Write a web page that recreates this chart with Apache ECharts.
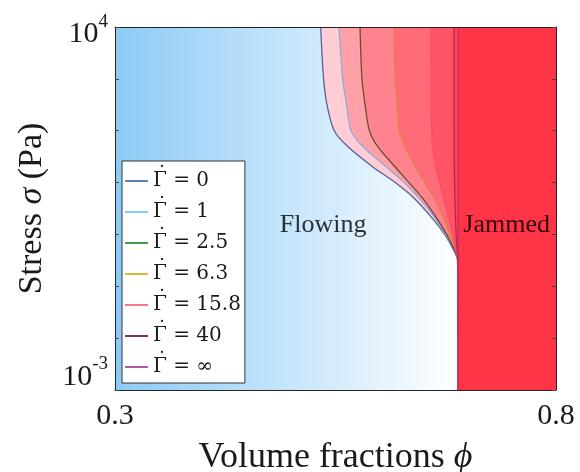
<!DOCTYPE html>
<html>
<head>
<meta charset="utf-8">
<title>jamming</title>
<style>html,body{margin:0;padding:0;background:#fff}</style>
</head>
<body>
<div id="graph" style="width:580px;height:472px;"></div>
<script src="https://cdn.jsdelivr.net/npm/echarts@6/dist/echarts.min.js"></script>
<script>
// stress levels (Pa) where every curve is sampled
const sigma = [1e4, 1e3, 300, 100, 50, 20, 10, 5, 2, 1, 0.5, 0.32, 1e-3];

// volume fraction of the jamming line for each Gamma-dot
const phiG0   = [0.5332, 0.5365, 0.5406, 0.5486, 0.5636, 0.5924, 0.6177, 0.6391, 0.6603, 0.6737, 0.6838, 0.6883, 0.6892];
const phiG1   = [0.5540, 0.5582, 0.5628, 0.5676, 0.5808, 0.6077, 0.6279, 0.6447, 0.6635, 0.6745, 0.6845, 0.6884, 0.6892];
const phiG25  = [0.5778, 0.5800, 0.5837, 0.5885, 0.5977, 0.6177, 0.6333, 0.6486, 0.6652, 0.6760, 0.6849, 0.6886, 0.6892];
const phiG63  = [0.6163, 0.6177, 0.6202, 0.6224, 0.6286, 0.6409, 0.6512, 0.6617, 0.6730, 0.6798, 0.6866, 0.6889, 0.6892];
const phiG158 = [0.6583, 0.6585, 0.6587, 0.6591, 0.6600, 0.6639, 0.6683, 0.6726, 0.6785, 0.6829, 0.6861, 0.6887, 0.6892];
const phiG40  = [0.6844, 0.6844, 0.6844, 0.6844, 0.6845, 0.6847, 0.6850, 0.6853, 0.6860, 0.6868, 0.6878, 0.6888, 0.6892];
const phiGInf = [0.6892, 0.6892, 0.6892, 0.6892, 0.6892, 0.6892, 0.6892, 0.6892, 0.6892, 0.6892, 0.6892, 0.6892, 0.6892];

const gammaValues = ['0', '1', '2.5', '6.3', '15.8', '40', '∞'];
const names = gammaValues.map(g => 'Γ̇ = ' + g);
const curves = [phiG0, phiG1, phiG25, phiG63, phiG158, phiG40, phiGInf];

const phiJ = 0.6892;
const phiRange = [0.3, 0.8];
const sigmaRange = [1e-3, 1e4];

const regionNames = ['Flowing', 'Jammed'];
const regionPhi = [0.536, 0.744];
const regionSigma = [1.5, 1.5];

// styles
const lineColors = ['#55609e', '#8eaad2', '#6a4a2c', '#e3803c', '#ff4a66', '#c81f40', '#b3306c'];
const legendColors = ['#5a80b8', '#7dcdf0', '#3f9a52', '#d8b93c', '#f07a88', '#8a2a58', '#b05aa8'];
const fillColors = ['#ffcdd3', '#ffa0a9', '#ff838e', '#ff6b78', '#ff5466', '#ff4255'];
const jamColor = '#ff3446';
const serif = "'Liberation Serif', 'DejaVu Serif', serif";
const legendFont = "'DejaVu Serif', serif";
const ink = '#1a1a1a';

let chart = echarts.init(document.getElementById('graph'));

function powLabel(v) {
    let e = Math.round(Math.log10(v));
    if (e === 4) return '{b|10}{s|4}';
    if (e === -3) return '{bb|10}{sb|-3}';
    return '';
}

let series = [];

// filled bands between neighbouring curves
series.push({
    type: 'custom',
    silent: true,
    z: 1,
    xAxisIndex: 0,
    yAxisIndex: 0,
    data: fillColors.map((c, i) => [curves[i][0], sigma[0]]),
    renderItem(params, api) {
        let i = params.dataIndex;
        let a = curves[i], b = curves[i + 1];
        let pts = sigma.map((s, j) => api.coord([a[j], s]));
        for (let j = sigma.length - 1; j >= 0; j--) pts.push(api.coord([b[j], sigma[j]]));
        return {type: 'polygon', shape: {points: pts}, style: {fill: fillColors[i]}};
    }
});

curves.forEach((c, i) => {
    let s = {
        name: names[i],
        type: 'line',
        xAxisIndex: 0,
        yAxisIndex: 0,
        symbol: 'none',
        smooth: 0.3,
        z: 3,
        lineStyle: {color: lineColors[i], width: 1.3},
        itemStyle: {color: legendColors[i]},
        data: sigma.map((v, j) => [c[j], v])
    };
    if (i === curves.length - 1) {
        s.markArea = {
            silent: true,
            itemStyle: {color: jamColor},
            data: [[{xAxis: phiJ}, {xAxis: phiRange[1]}]]
        };
    }
    series.push(s);
});

// region labels
series.push({
    type: 'scatter',
    xAxisIndex: 0,
    yAxisIndex: 0,
    symbolSize: 1,
    z: 4,
    itemStyle: {color: 'rgba(0,0,0,0)'},
    data: regionNames.map((n, i) => [regionPhi[i], regionSigma[i], n]),
    label: {
        show: true,
        position: 'inside',
        formatter: p => p.value[2],
        fontFamily: serif,
        fontSize: 26,
        color: '#000'
    }
});

chart.setOption({
    animation: false,
    grid: {
        left: 115, right: 24, top: 27, bottom: 82,
        outerBoundsMode: 'none',
        containLabel: false,
        show: true,
        borderWidth: 0,
        backgroundColor: new echarts.graphic.LinearGradient(0, 0, 1, 0, [
            {offset: 0, color: '#8ccbf6'},
            {offset: 0.78, color: '#ffffff'}
        ])
    },
    legend: {
        orient: 'vertical',
        left: 122, top: 161,
        icon: 'rect',
        data: names.map((n, i) => ({name: n, itemStyle: {color: legendColors[i]}})),
        formatter: n => '{d|\u2009˙}{g|Γ}{t| = ' + gammaValues[names.indexOf(n)] + '}',
        itemWidth: 23, itemHeight: 2, itemGap: 3,
        padding: [4, 4, 4, 3],
        backgroundColor: '#fff',
        borderColor: '#333',
        borderWidth: 1,
        borderRadius: 0,
        selectedMode: false,
        textStyle: {
            fontFamily: legendFont, fontSize: 20, color: ink,
            rich: {
                d: {fontFamily: legendFont, fontSize: 20, color: ink, width: 0, height: 12, align: 'left', lineHeight: 12, padding: [0, 0, 12, 0]},
                g: {fontFamily: legendFont, fontSize: 20, color: ink, lineHeight: 24},
                t: {fontFamily: legendFont, fontSize: 20, color: ink, lineHeight: 24}
            }
        }
    },
    xAxis: [
        {
            type: 'value',
            min: phiRange[0], max: phiRange[1],
            position: 'bottom',
            z: 10,
            splitLine: {show: false},
            axisTick: {show: false},
            axisLine: {show: true, lineStyle: {color: '#262626', width: 1}},
            axisLabel: {
                margin: 11,
                fontFamily: serif, fontSize: 30, color: ink,
                formatter: v => (Math.abs(v - 0.3) < 1e-6 ? '0.3' : Math.abs(v - 0.8) < 1e-6 ? '0.8' : '')
            },
            name: '{t|Volume fractions }{i|ϕ}',
            nameLocation: 'middle',
            nameGap: 50,
            nameTextStyle: {
                rich: {
                    t: {fontFamily: serif, fontSize: 36, color: ink},
                    i: {fontFamily: serif, fontSize: 36, fontStyle: 'italic', color: ink}
                }
            }
        },
        {
            type: 'value',
            min: phiRange[0], max: phiRange[1],
            position: 'top',
            z: 10,
            splitLine: {show: false},
            axisTick: {show: false},
            axisLabel: {show: false},
            axisLine: {show: true, lineStyle: {color: '#262626', width: 1}}
        }
    ],
    yAxis: [
        {
            type: 'log',
            logBase: 10,
            min: sigmaRange[0], max: sigmaRange[1],
            position: 'left',
            z: 10,
            splitLine: {show: false},
            axisTick: {show: true, inside: true, length: 4, lineStyle: {color: '#444'}},
            axisLine: {show: true, lineStyle: {color: '#262626', width: 1}},
            axisLabel: {
                margin: 7,
                formatter: powLabel,
                rich: {
                    b: {fontFamily: serif, fontSize: 30, color: ink, padding: [14, 0, 0, 0]},
                    s: {fontFamily: serif, fontSize: 19, color: ink, padding: [0, 0, 10, 0]},
                    bb: {fontFamily: serif, fontSize: 30, color: ink, padding: [0, 0, 26, 0]},
                    sb: {fontFamily: serif, fontSize: 19, color: ink, padding: [0, 0, 52, 0]}
                }
            },
            name: '{t|Stress }{i|σ}{t| (Pa)}',
            nameLocation: 'middle',
            nameGap: 66,
            nameTextStyle: {
                rich: {
                    t: {fontFamily: serif, fontSize: 34, color: ink},
                    i: {fontFamily: serif, fontSize: 34, fontStyle: 'italic', color: ink}
                }
            }
        },
        {
            type: 'log',
            logBase: 10,
            min: sigmaRange[0], max: sigmaRange[1],
            position: 'right',
            z: 10,
            splitLine: {show: false},
            axisTick: {show: true, inside: true, length: 4, lineStyle: {color: '#444'}},
            axisLine: {show: true, lineStyle: {color: '#262626', width: 1}},
            axisLabel: {show: false}
        }
    ],
    series: series
});
</script>
</body>
</html>
